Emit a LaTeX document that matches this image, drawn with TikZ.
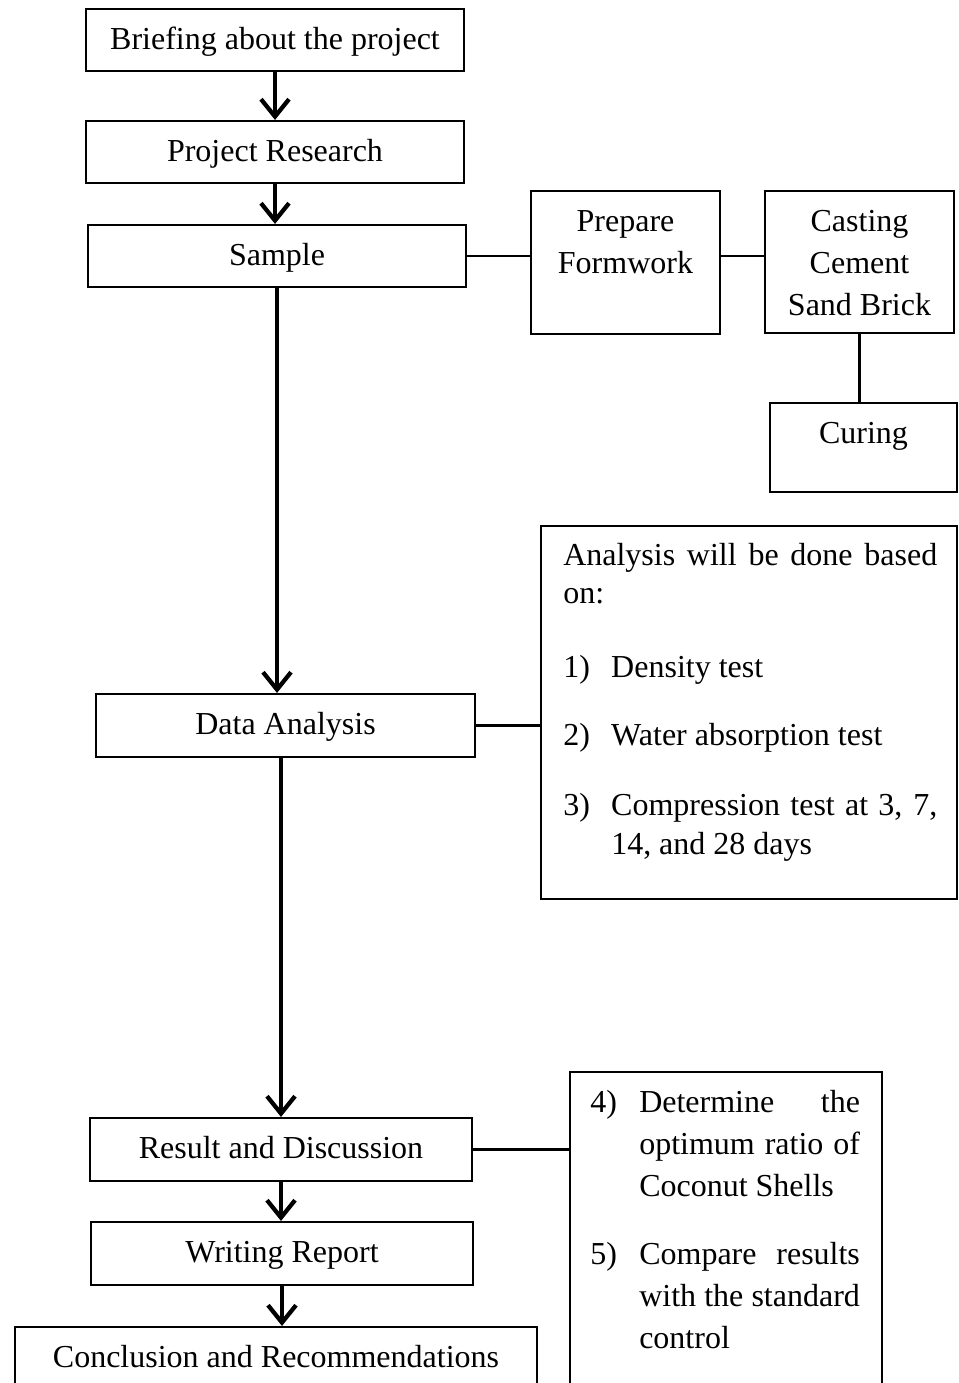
\documentclass[tikz,border=0pt]{standalone}
\usepackage{fontspec}
\setmainfont{Liberation Serif}
\usetikzlibrary{arrows.meta,calc}
\begin{document}
\begin{tikzpicture}[x=0.75pt,y=-0.75pt,
  box/.style={draw,line width=1.6pt,inner sep=0pt,font=\fontsize{24}{31.5}\selectfont,text height=19pt,text depth=5pt},
  plainbox/.style={draw,line width=1.6pt,inner sep=0pt},
  flow/.style={line width=3pt,-{Straight Barb[length=13pt,width=21pt,line width=3.2pt]}},
  link/.style={line width=1.8pt},
  txt/.style={inner sep=0pt,font=\fontsize{24}{31.5}\selectfont}]
\useasboundingbox (0,0) rectangle (958,1383);
\begin{scope}
\clip (0,0) rectangle (958,1383);
% main column
\node[box,minimum width=283.5pt,minimum height=46.5pt] (brief) at (275,40) {Briefing about the project};
\node[box,minimum width=283.5pt,minimum height=46.5pt] (research) at (275,152) {Project Research};
\node[box,minimum width=283.5pt,minimum height=46.5pt] (sample) at (277,256) {Sample};
\node[box,minimum width=284.25pt,minimum height=47.25pt] (data) at (285.5,725.5) {Data Analysis};
\node[box,minimum width=286.5pt,minimum height=47.25pt] (result) at (281,1149.5) {Result and Discussion};
\node[box,minimum width=286.5pt,minimum height=47.25pt] (writing) at (282,1253.5) {Writing Report};
\node[box,minimum width=391.5pt,minimum height=46.5pt] (concl) at (276,1358) {Conclusion and Recommendations};
% side boxes
\node[plainbox,minimum width=141.75pt,minimum height=107.25pt] (prepare) at (625.5,262.5) {};
\node[txt,anchor=base] (preparetxt) at (625.5,232) {\begin{tabular}[t]{@{}c@{}}Prepare\\Formwork\end{tabular}};
\node[plainbox,minimum width=141.75pt,minimum height=106.5pt] (casting) at (859.5,262) {};
\node[txt,anchor=base] (castingtxt) at (859.5,232) {\begin{tabular}[t]{@{}c@{}}Casting\\Cement\\Sand Brick\end{tabular}};
\node[plainbox,minimum width=140.25pt,minimum height=66.75pt] (curing) at (863.5,447.5) {};
\node[txt,anchor=base] (curingtxt) at (863.5,443) {Curing};
\node[plainbox,minimum width=312pt,minimum height=279.75pt] (analysis) at (749,712.5) {};
\node[txt,anchor=base west,font=\fontsize{24}{29}\selectfont] (analysistxt) at (563,565) {\begin{tabular}[t]{@{}l@{}}
\makebox[280.5pt][s]{Analysis will be done based}\\
on:\\[26.5pt]
\makebox[36pt][l]{1)}Density test\\[22pt]
\makebox[36pt][l]{2)}Water absorption test\\[23.5pt]
\makebox[36pt][l]{3)}\makebox[244.5pt][s]{Compression test at 3, 7,}\\
\hspace*{36pt}14, and 28 days
\end{tabular}};
\node[plainbox,minimum width=234pt,minimum height=246pt] (rbox) at (726,1236) {};
\node[txt,anchor=base west] (rboxtxt) at (590,1112) {\begin{tabular}[t]{@{}l@{}}
\makebox[36.75pt][l]{4)}\makebox[165.5pt][s]{Determine the}\\
\hspace*{36.75pt}\makebox[165.5pt][s]{optimum ratio of}\\
\hspace*{36.75pt}Coconut Shells\\[19.5pt]
\makebox[36.75pt][l]{5)}\makebox[165.5pt][s]{Compare results}\\
\hspace*{36.75pt}\makebox[165.5pt][s]{with the standard}\\
\hspace*{36.75pt}control
\end{tabular}};
% arrows
\draw[flow] (brief.south) -- (research.north);
\draw[flow] (research.south) -- (research.south |- sample.north);
\draw[flow] (sample.south) -- (sample.south |- data.north);
\draw[flow] (result.north |- data.south) -- (result.north);
\draw[flow] (result.south) -- (result.south |- writing.north);
\draw[flow] (writing.south) -- (writing.south |- concl.north);
% links
\draw[link] (sample.east) -- (sample.east -| prepare.west);
\draw[link] (sample.east -| prepare.east) -- (sample.east -| casting.west);
\draw[link] (casting.south) -- (casting.south |- curing.north);
\draw[link] (data.east) -- (data.east -| analysis.west);
\draw[link] (result.east) -- (result.east -| rbox.west);
\end{scope}
\end{tikzpicture}
\end{document}
